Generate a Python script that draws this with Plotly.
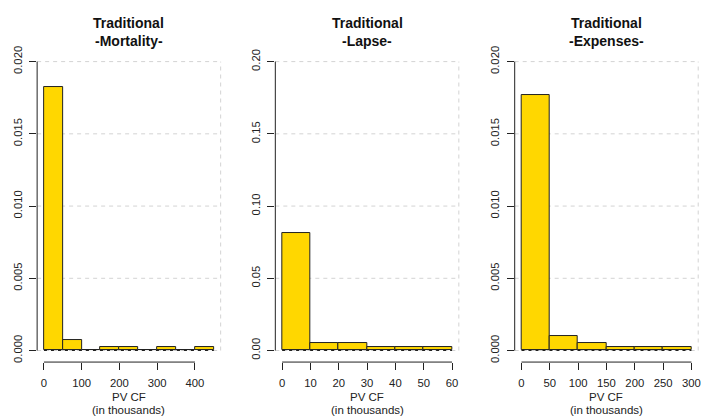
import plotly.graph_objects as go

# Histogram densities of the present value of cash flows (in thousands)
mort_edges = [0, 50, 100, 150, 200, 250, 300, 350, 400, 450]
mort_density = [0.01825, 0.00075, 0.0, 0.00025, 0.00025, 0.0, 0.00025, 0.0, 0.00025]
mort_xticks = [0, 100, 200, 300, 400]
mort_yticks = [0.000, 0.005, 0.010, 0.015, 0.020]

lapse_edges = [0, 10, 20, 30, 40, 50, 60]
lapse_density = [0.0812, 0.0051, 0.0051, 0.0021, 0.0021, 0.0021]
lapse_xticks = [0, 10, 20, 30, 40, 50, 60]
lapse_yticks = [0.00, 0.05, 0.10, 0.15, 0.20]

exp_edges = [0, 50, 100, 150, 200, 250, 300]
exp_density = [0.0177, 0.00103, 0.00051, 0.00026, 0.00026, 0.00026]
exp_xticks = [0, 50, 100, 150, 200, 250, 300]
exp_yticks = [0.000, 0.005, 0.010, 0.015, 0.020]

title_top = "Traditional"
title_sub = ["-Mortality-", "-Lapse-", "-Expenses-"]
xlab_lines = ["PV CF", "(in thousands)"]

W, H = 702, 419
FONT = "Arial, Liberation Sans, sans-serif"
GOLD = "#FFD700"
GRID = "#D3D3D3"
INK = "#222222"

panels = [
    dict(edges=mort_edges, dens=mort_density, xt=mort_xticks, yt=mort_yticks,
         yfmt=".3f", left=37.3),
    dict(edges=lapse_edges, dens=lapse_density, xt=lapse_xticks, yt=lapse_yticks,
         yfmt=".2f", left=276.5),
    dict(edges=exp_edges, dens=exp_density, xt=exp_xticks, yt=exp_yticks,
         yfmt=".3f", left=516.9),
]
PW = 184.3
TOP, BOTTOM = 46.6, 362.4

fig = go.Figure()
shapes = []
annotations = []


def text_at(txt, cx, py, size, bold=False):
    annotations.append(dict(
        text=f"<b>{txt}</b>" if bold else txt,
        xref="paper", yref="paper", x=cx, y=(H - py) / H,
        xanchor="center", yanchor="middle", showarrow=False,
        font=dict(family=FONT, size=size, color="#111111" if bold else INK),
    ))


for i, p in enumerate(panels, start=1):
    xa = "x" if i == 1 else f"x{i}"
    ya = "y" if i == 1 else f"y{i}"
    edges, dens = p["edges"], p["dens"]
    mids = [(a + b) / 2 for a, b in zip(edges[:-1], edges[1:])]
    widths = [b - a for a, b in zip(edges[:-1], edges[1:])]

    fig.add_trace(go.Bar(
        x=mids, y=dens, width=widths, xaxis=xa, yaxis=ya,
        marker=dict(color=GOLD, line=dict(color=INK, width=1)),
        hoverinfo="x+y", showlegend=False,
    ))

    # R-style 4% padding around the data range
    x0, x1 = edges[0], edges[-1]
    xpad = 0.04 * (x1 - x0)
    ymax = p["yt"][-1]
    ypad = 0.04 * ymax

    xkey = "xaxis" if i == 1 else f"xaxis{i}"
    ykey = "yaxis" if i == 1 else f"yaxis{i}"
    fig.update_layout(**{
        xkey: dict(
            domain=[p["left"] / W, (p["left"] + PW) / W],
            range=[x0 - xpad, x1 + xpad], anchor=ya,
            tickmode="array", tickvals=p["xt"], ticktext=[str(v) for v in p["xt"]],
            ticks="outside", ticklen=7, tickwidth=1, tickcolor=INK,
            showline=False, showgrid=False, zeroline=False,
            tickfont=dict(family=FONT, size=11.3, color=INK),
            ticklabelstandoff=3, ticklabeloverflow="allow",
        ),
        ykey: dict(
            domain=[(H - BOTTOM) / H, (H - TOP) / H],
            range=[-ypad, ymax + ypad], anchor=xa,
            tickmode="array", tickvals=p["yt"],
            ticktext=[format(v, p["yfmt"]) for v in p["yt"]],
            ticks="outside", ticklen=7, tickwidth=1, tickcolor=INK,
            tickangle=-90,
            showline=False, showgrid=False, zeroline=False,
            tickfont=dict(family=FONT, size=11.3, color=INK),
            ticklabelstandoff=3,
        ),
    })

    xd = f"{xa} domain"
    yd = f"{ya} domain"
    # dashed light-grey grid
    for t in p["yt"]:
        shapes.append(dict(type="line", xref=xd, yref=ya, x0=0, x1=1, y0=t, y1=t,
                           line=dict(color=GRID, width=1, dash="4px,4px"), layer="below"))
    shapes.append(dict(type="line", xref=xd, yref=ya, x0=1, x1=1, y0=0, y1=ymax,
                       line=dict(color=GRID, width=1, dash="4px,4px"), layer="below"))
    # dashed baseline under the bars
    shapes.append(dict(type="line", xref=xa, yref=ya, x0=x0, x1=x1, y0=0, y1=0,
                       line=dict(color=INK, width=1, dash="3px,4px"), layer="above"))
    # axis lines spanning first to last tick
    shapes.append(dict(type="line", xref=xd, yref=ya, x0=0, x1=0,
                       y0=p["yt"][0], y1=p["yt"][-1],
                       line=dict(color=INK, width=1), layer="above"))
    shapes.append(dict(type="line", xref=xa, yref=yd, x0=p["xt"][0], x1=p["xt"][-1],
                       y0=0, y1=0, line=dict(color=INK, width=1), layer="above"))

    cx = (p["left"] + PW / 2) / W
    text_at(title_top, cx, 19.5, 14, bold=True)
    text_at(title_sub[i - 1], cx, 37.5, 14, bold=True)
    text_at(xlab_lines[0], cx, 398, 11.5)
    text_at(xlab_lines[1], cx, 411, 11.5)

fig.update_layout(
    width=W, height=H,
    margin=dict(l=0, r=0, t=0, b=0),
    paper_bgcolor="white", plot_bgcolor="white",
    bargap=0, barmode="overlay",
    shapes=shapes, annotations=annotations,
    font=dict(family=FONT, color=INK),
)

fig.write_html("out.html")
